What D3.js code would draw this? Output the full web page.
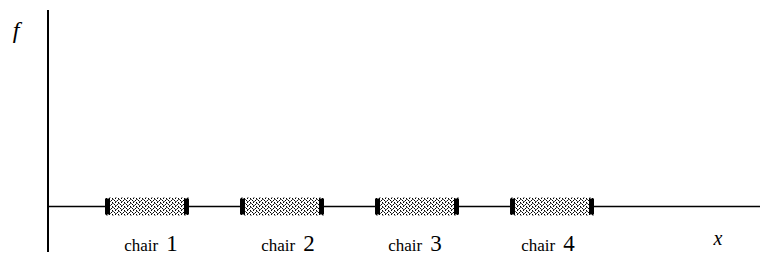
<!DOCTYPE html>
<html><head><meta charset="utf-8">
<script src="https://cdn.jsdelivr.net/npm/d3@7/dist/d3.min.js"></script>
<style>html,body{margin:0;padding:0;background:#fff;}svg{display:block;}</style>
</head><body>
<script>
const categories = ["chair 1", "chair 2", "chair 3", "chair 4"];
const labelWords = ["chair", "chair", "chair", "chair"];
const labelNums = ["1", "2", "3", "4"];
const fValues = [0, 0, 0, 0];
const yDomain = [0, 1];

const FONT = "'Liberation Serif', 'DejaVu Serif', 'Times New Roman', serif";
const W = 760, H = 266;
const svg = d3.select("body").append("svg").attr("width", W).attr("height", H);

const defs = svg.append("defs");
const pat = defs.append("pattern").attr("id", "stip").attr("patternUnits", "userSpaceOnUse")
  .attr("width", 6).attr("height", 4);
pat.append("rect").attr("width", 6).attr("height", 4).attr("fill", "#fff");
[[0,0],[3,0],[1,2],[4,2],[2,1],[5,3],[1,1],[4,3]].forEach(([a,b],k) =>
  pat.append("rect").attr("x", a).attr("y", b).attr("width", 1).attr("height", 1)
    .attr("fill", k < 4 ? "#000" : "#555"));

const x = d3.scaleBand().domain(categories).range([105, 594]).paddingInner(0.378).paddingOuter(0);
const y = d3.scaleLinear().domain(yDomain).range([206.5, 20]);

// axes
svg.append("line").attr("x1", 48).attr("x2", 48).attr("y1", 10).attr("y2", 252)
  .attr("stroke", "#000").attr("stroke-width", 2);
svg.append("line").attr("x1", 48).attr("x2", W).attr("y1", y(0)).attr("y2", y(0))
  .attr("stroke", "#000").attr("stroke-width", 1.6);

// bars (intervals on x axis)
const g = svg.selectAll("g.bar").data(categories).enter().append("g").attr("class", "bar");
g.append("rect").attr("x", d => x(d)).attr("width", x.bandwidth())
  .attr("y", (d, i) => y(fValues[i]) - 9).attr("height", 18)
  .attr("fill", "url(#stip)");
g.append("rect").attr("x", d => x(d)).attr("width", 5)
  .attr("y", (d, i) => y(fValues[i]) - 8).attr("height", 16).attr("fill", "#000");
g.append("rect").attr("x", d => x(d) + x.bandwidth() - 5).attr("width", 5)
  .attr("y", (d, i) => y(fValues[i]) - 8).attr("height", 16).attr("fill", "#000");

// labels
const lab = svg.selectAll("text.lab").data(categories).enter().append("text").attr("class", "lab")
  .attr("x", (d, i) => x(d) + x.bandwidth() / 2 + [4, 6, -2, -4][i])
  .attr("y", 251).attr("text-anchor", "middle").attr("fill", "#000")
  .style("font-family", FONT);
lab.append("tspan").attr("font-size", 17).text((d, i) => labelWords[i]);
lab.append("tspan").attr("font-size", 23).attr("dx", 8).text((d, i) => labelNums[i]);

svg.append("text").attr("x", 718).attr("y", 245).attr("text-anchor", "middle")
  .style("font-family", FONT).attr("font-style", "italic").attr("font-size", 20).text("x");
svg.append("text").attr("x", 16).attr("y", 38).attr("text-anchor", "middle")
  .style("font-family", FONT).attr("font-style", "italic").attr("font-size", 24).text("f");
</script>
</body></html>
